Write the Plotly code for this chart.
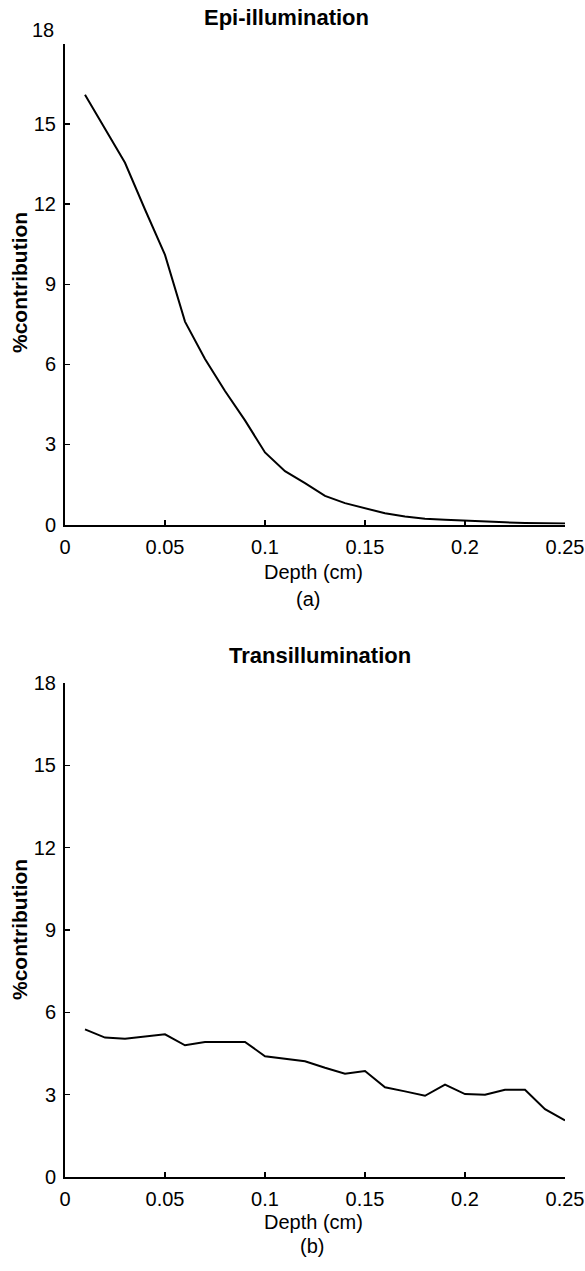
import plotly.graph_objects as go

depth = [0.01, 0.02, 0.03, 0.04, 0.05, 0.06, 0.07, 0.08, 0.09, 0.10,
         0.11, 0.12, 0.13, 0.14, 0.15, 0.16, 0.17, 0.18, 0.19, 0.20,
         0.21, 0.22, 0.23, 0.24, 0.25]
epi = [16.1, 14.85, 13.55, 11.8, 10.1, 7.6, 6.2, 5.0, 3.9, 2.7,
       2.0, 1.55, 1.07, 0.8, 0.61, 0.42, 0.3, 0.22, 0.18, 0.14,
       0.11, 0.08, 0.06, 0.05, 0.04]
trans = [5.38, 5.08, 5.04, 5.11, 5.20, 4.80, 4.92, 4.92, 4.92, 4.40,
         4.31, 4.22, 3.98, 3.76, 3.86, 3.27, 3.12, 2.96, 3.37, 3.02,
         3.00, 3.18, 3.18, 2.47, 2.06]
x_ticks = [0, 0.05, 0.1, 0.15, 0.2, 0.25]
x_tick_labels = ["0", "0.05", "0.1", "0.15", "0.2", "0.25"]
y_ticks = [0, 3, 6, 9, 12, 15, 18]
y_tick_labels = ["0", "3", "6", "9", "12", "15", "18"]
titles = ["Epi-illumination", "Transillumination"]
sub_labels = ["(a)", "(b)"]
x_title = "Depth (cm)"
y_title = "%contribution"

W, H = 585, 1271
L, PW = 65, 500
FONT = "Arial"

fig = go.Figure()
fig.add_trace(go.Scatter(x=depth, y=epi, mode="lines",
                         line=dict(color="black", width=2),
                         xaxis="x", yaxis="y", showlegend=False))
fig.add_trace(go.Scatter(x=depth, y=trans, mode="lines",
                         line=dict(color="black", width=2),
                         xaxis="x2", yaxis="y2", showlegend=False))

def py(p):
    return 1 - p / H

def px(p):
    return (p - L) / PW

panels = [(44, 524.5), (683, 1177)]
title_pos = [(286, 17), (320, 655)]
depth_y = [572, 1222]
sub_pos = [(308, 599), (312, 1246)]
ylab_y = [283, 930]

axis_common = dict(showgrid=False, zeroline=False, showline=True,
                   linecolor="black", linewidth=2, ticks="inside",
                   ticklen=5, tickwidth=1.5, tickcolor="black",
                   tickfont=dict(family=FONT, size=20, color="black"),
                   ticklabeloverflow="allow", mirror=False)

layout = dict(width=W, height=H, plot_bgcolor="white", paper_bgcolor="white",
              margin=dict(l=L, r=W - L - PW, t=0, b=0, autoexpand=False),
              showlegend=False)

annotations = []
for i, (top, bot) in enumerate(panels):
    sfx = "" if i == 0 else str(i + 1)
    yt = list(y_tick_labels)
    if i == 0:
        # in the top panel the "18" label sits above the end of the axis
        yt[-1] = ""
        annotations.append(dict(text=y_tick_labels[-1], xref="paper", yref="y",
                                x=px(56), y=y_ticks[-1], yshift=14, showarrow=False,
                                xanchor="right", yanchor="middle",
                                font=dict(family=FONT, size=20, color="black")))
    layout["xaxis" + sfx] = dict(axis_common, range=[0, 0.25], tickvals=x_ticks,
                                 ticktext=x_tick_labels, anchor="y" + sfx,
                                 domain=[0, 1], ticklabelstandoff=3)
    layout["yaxis" + sfx] = dict(axis_common, range=[0, 18], tickvals=y_ticks,
                                 ticktext=yt, anchor="x" + sfx, ticklabelstandoff=3,
                                 domain=[py(bot), py(top)])
    annotations.append(dict(text="<b>" + titles[i] + "</b>", xref="paper", yref="paper",
                            x=px(title_pos[i][0]), y=py(title_pos[i][1]), showarrow=False,
                            xanchor="center", yanchor="middle",
                            font=dict(family=FONT, size=22, color="black")))
    annotations.append(dict(text=x_title, xref="paper", yref="paper",
                            x=px(313), y=py(depth_y[i]), showarrow=False,
                            xanchor="center", yanchor="middle",
                            font=dict(family=FONT, size=20, color="black")))
    annotations.append(dict(text=sub_labels[i], xref="paper", yref="paper",
                            x=px(sub_pos[i][0]), y=py(sub_pos[i][1]), showarrow=False,
                            xanchor="center", yanchor="middle",
                            font=dict(family=FONT, size=20, color="black")))
    annotations.append(dict(text="<b>" + y_title + "</b>", xref="paper", yref="paper",
                            x=px(19), y=py(ylab_y[i]), showarrow=False,
                            xanchor="center", yanchor="middle", textangle=-90,
                            font=dict(family=FONT, size=21, color="black")))

layout["annotations"] = annotations
fig.update_layout(**layout)

# remove the browser's default page margin so the figure fills the window exactly
page_css = ("document.body.style.margin='0';"
            "document.body.style.overflow='hidden';"
            "document.documentElement.style.overflow='hidden';")
fig.write_html("out.html", post_script=page_css,
               config={"displayModeBar": False, "staticPlot": True})
